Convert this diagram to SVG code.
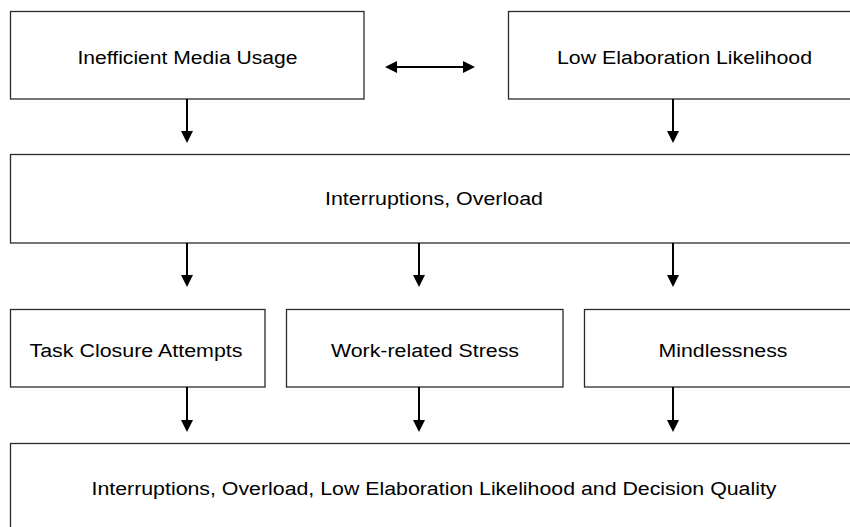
<svg xmlns="http://www.w3.org/2000/svg" width="850" height="527" viewBox="0 0 850 527">
  <style>
    .box { fill: #ffffff; stroke: #2a2a2a; stroke-width: 1.3; }
    .label { font-family: "Liberation Sans", Arial, sans-serif; font-size: 18px; fill: #000000; text-anchor: middle; }
    .link { stroke: #000000; stroke-width: 2; fill: none; }
  </style>
  <defs>
    <marker id="head" viewBox="0 0 12 12" refX="2" refY="6" markerWidth="12" markerHeight="12" markerUnits="userSpaceOnUse" orient="auto-start-reverse">
      <path d="M0,0 L12,6 L0,12 z" fill="#000000"/>
    </marker>
  </defs>
  <rect width="850" height="527" fill="#ffffff"/>

  <g id="node-media-usage">
    <rect class="box" x="10.5" y="11.5" width="353.5" height="87.5"/>
    <text class="label" x="187.5" y="64" textLength="220" lengthAdjust="spacingAndGlyphs">Inefficient Media Usage</text>
  </g>

  <g id="node-elaboration">
    <rect class="box" x="508.5" y="11.5" width="360" height="87.5"/>
    <text class="label" x="684.5" y="64" textLength="255" lengthAdjust="spacingAndGlyphs">Low Elaboration Likelihood</text>
  </g>

  <g id="node-interruptions">
    <rect class="box" x="10.5" y="154.5" width="860" height="88.5"/>
    <text class="label" x="434" y="205" textLength="218" lengthAdjust="spacingAndGlyphs">Interruptions, Overload</text>
  </g>

  <g id="node-task-closure">
    <rect class="box" x="10.5" y="309.5" width="254.5" height="77.5"/>
    <text class="label" x="136" y="357" textLength="213" lengthAdjust="spacingAndGlyphs">Task Closure Attempts</text>
  </g>

  <g id="node-stress">
    <rect class="box" x="286.5" y="309.5" width="276.5" height="77.5"/>
    <text class="label" x="425" y="357" textLength="188" lengthAdjust="spacingAndGlyphs">Work-related Stress</text>
  </g>

  <g id="node-mindlessness">
    <rect class="box" x="584.5" y="309.5" width="290" height="77.5"/>
    <text class="label" x="723" y="357" textLength="129" lengthAdjust="spacingAndGlyphs">Mindlessness</text>
  </g>

  <g id="node-decision-quality">
    <rect class="box" x="10.5" y="443.5" width="860" height="100"/>
    <text class="label" x="434" y="495" textLength="685" lengthAdjust="spacingAndGlyphs">Interruptions, Overload, Low Elaboration Likelihood and Decision Quality</text>
  </g>

  <g id="connectors">
    <!-- two-way link between the top boxes -->
    <line class="link" x1="395" y1="67" x2="465" y2="67" marker-start="url(#head)" marker-end="url(#head)"/>
    <!-- top row into the interruptions box -->
    <line class="link" x1="187" y1="99" x2="187" y2="133" marker-end="url(#head)"/>
    <line class="link" x1="673" y1="99" x2="673" y2="133" marker-end="url(#head)"/>
    <!-- interruptions box into the three middle boxes -->
    <line class="link" x1="187" y1="243" x2="187" y2="277" marker-end="url(#head)"/>
    <line class="link" x1="419" y1="243" x2="419" y2="277" marker-end="url(#head)"/>
    <line class="link" x1="673" y1="243" x2="673" y2="277" marker-end="url(#head)"/>
    <!-- middle boxes into the bottom box -->
    <line class="link" x1="187" y1="387" x2="187" y2="422" marker-end="url(#head)"/>
    <line class="link" x1="419" y1="387" x2="419" y2="422" marker-end="url(#head)"/>
    <line class="link" x1="673" y1="387" x2="673" y2="422" marker-end="url(#head)"/>
  </g>
</svg>
